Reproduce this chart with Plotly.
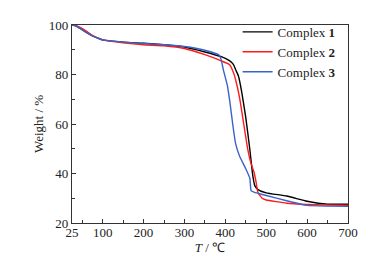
import plotly.graph_objects as go

# Complex 1 (black)
t1 = [25, 35, 45, 60, 75, 90, 100, 150, 200, 250, 300, 350, 390, 410, 420, 425, 432, 440, 450, 460, 467, 472, 480, 500, 550, 600, 650, 700]
w1 = [100, 99.6, 98.6, 97.0, 95.6, 94.6, 94.0, 93.1, 92.6, 92.0, 91.1, 89.1, 87.2, 85.6, 84.0, 82.0, 79.4, 73.0, 62.6, 49.6, 39.3, 35.1, 33.5, 32.2, 30.9, 28.8, 27.6, 27.6]
# Complex 2 (red)
t2 = [25, 35, 45, 60, 75, 90, 100, 150, 200, 250, 300, 350, 390, 410, 420, 425, 435, 445, 455, 462, 470, 475, 480, 490, 500, 550, 600, 650, 700]
w2 = [100, 99.8, 99.0, 97.5, 95.8, 94.6, 94.0, 92.8, 92.0, 91.6, 90.5, 88.0, 85.5, 84.0, 80.7, 78.0, 70.5, 60.0, 49.6, 44.5, 40.6, 36.7, 32.2, 30.0, 29.3, 28.0, 27.5, 27.3, 27.2]
# Complex 3 (blue)
t3 = [25, 35, 45, 60, 75, 90, 100, 150, 200, 250, 300, 350, 385, 390, 395, 405, 412, 418, 425, 435, 450, 460, 463, 470, 500, 550, 600, 650, 700]
w3 = [100, 99.6, 98.6, 97.0, 95.6, 94.6, 94.0, 93.1, 92.5, 92.0, 91.3, 89.8, 87.8, 85.8, 82.0, 75.5, 67.8, 60.0, 52.2, 47.0, 41.9, 38.0, 33.1, 32.5, 31.1, 29.0, 27.1, 26.8, 26.7]

x_ticks = [25, 100, 200, 300, 400, 500, 600, 700]
x_minor = [50, 150, 250, 350, 450, 550, 650]
y_ticks = [20, 40, 60, 80, 100]
y_minor = [30, 50, 70, 90]

font = "Liberation Serif"
fig = go.Figure()
fig.add_trace(go.Scatter(x=t1, y=w1, mode="lines", name="Complex <b>1</b>",
                         line=dict(color="#000000", width=1.4, shape="spline", smoothing=0.4)))
fig.add_trace(go.Scatter(x=t2, y=w2, mode="lines", name="Complex <b>2</b>",
                         line=dict(color="#ff1a1a", width=1.4, shape="spline", smoothing=0.4)))
fig.add_trace(go.Scatter(x=t3, y=w3, mode="lines", name="Complex <b>3</b>",
                         line=dict(color="#3a62c8", width=1.4, shape="spline", smoothing=0.4)))

axis_common = dict(showline=True, linecolor="#333333", linewidth=1.2, mirror=True,
                   showgrid=False, zeroline=False, ticks="inside", ticklen=4, automargin=False,
                   tickcolor="#333333", tickfont=dict(family=font, size=13, color="#222222"))
fig.update_layout(
    width=380, height=258,
    margin=dict(l=64, r=40, t=9, b=43),
    plot_bgcolor="white", paper_bgcolor="white",
    font=dict(family=font, size=13, color="#222222"),
    showlegend=True,
    legend=dict(x=0.6, y=0.864, xanchor="left", yanchor="middle", bgcolor="rgba(0,0,0,0)",
                font=dict(family=font, size=13, color="#222222"), tracegroupgap=0,
                itemwidth=30),
)
fig.update_xaxes(range=[25, 700], tickmode="array", tickvals=x_ticks, ticklabelstandoff=-3,
                 minor=dict(tickmode="array", tickvals=x_minor, ticks="inside", ticklen=2.5, tickcolor="#333333"),
                 title=dict(text="<i>T</i> / ℃", font=dict(family=font, size=13), standoff=0),
                 **axis_common)
fig.update_yaxes(range=[20, 100], tickmode="array", tickvals=y_ticks,
                 minor=dict(tickmode="array", tickvals=y_minor, ticks="inside", ticklen=2.5, tickcolor="#333333"),
                 title=dict(text="Weight / %", font=dict(family=font, size=13), standoff=2),
                 **axis_common)
fig.write_html("out.html")
